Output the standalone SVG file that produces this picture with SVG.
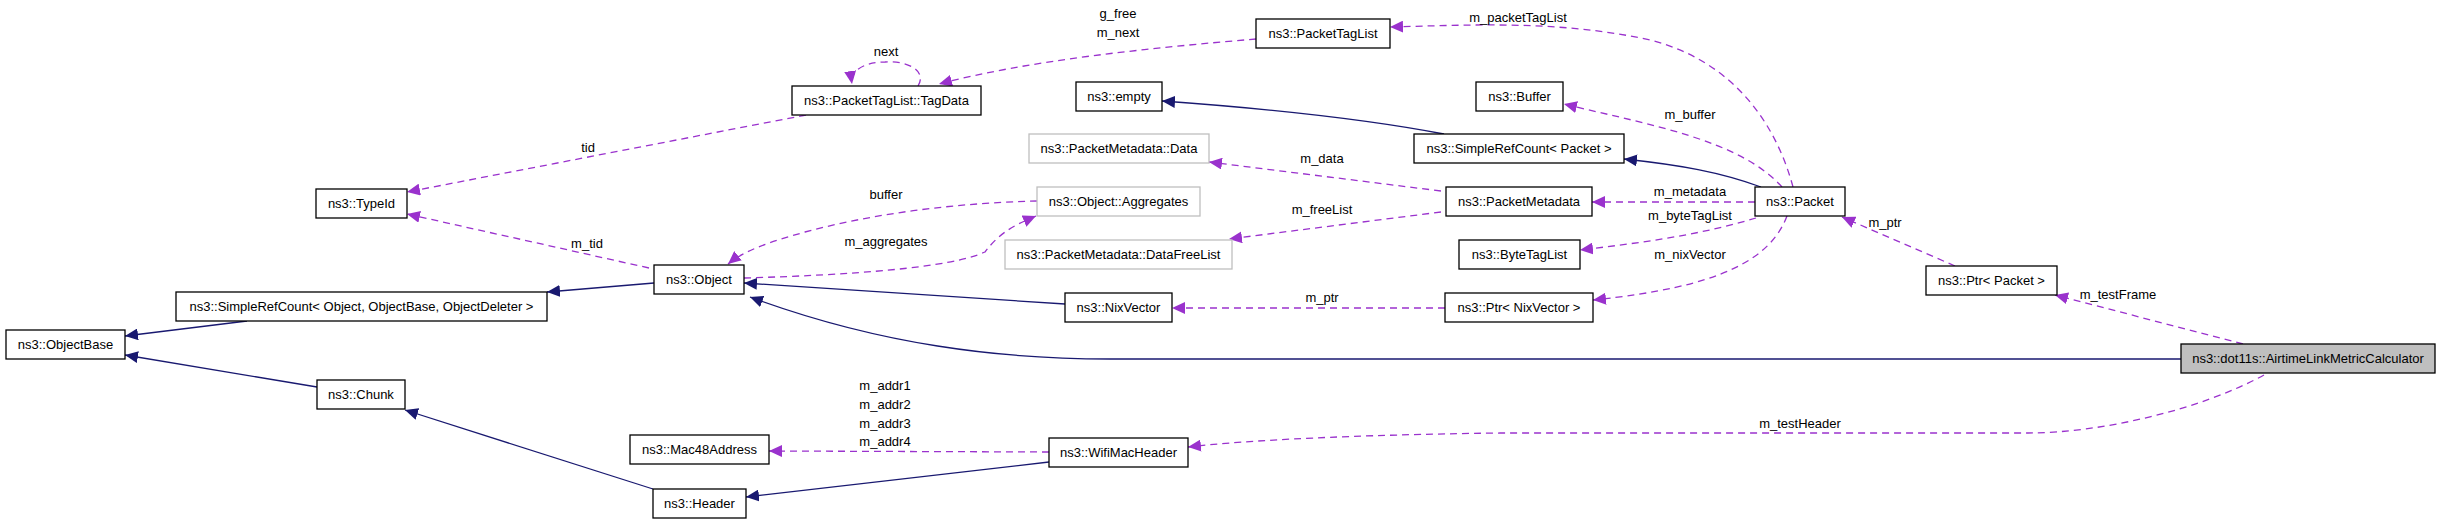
<svg xmlns="http://www.w3.org/2000/svg" width="2453" height="528" viewBox="0 0 2453 528">
<style>
.n rect{fill:#fff;stroke:#000;stroke-width:1.3}
.n.g rect{stroke:#bfbfbf}
.n.c rect{fill:#bfbfbf}
text{font-family:"Liberation Sans",Arial,sans-serif;font-size:13px;text-anchor:middle;fill:#000}
.i{fill:none;stroke:#191970;stroke-width:1.3;marker-end:url(#ai)}
.u{fill:none;stroke:#9a32cd;stroke-width:1.3;stroke-dasharray:7,5;marker-end:url(#au)}
</style>
<defs>
<marker id="ai" markerUnits="userSpaceOnUse" markerWidth="14" markerHeight="12" refX="13" refY="6" orient="auto"><path d="M0,0 L13,6 L0,12 Z" fill="#191970"/></marker>
<marker id="au" markerUnits="userSpaceOnUse" markerWidth="14" markerHeight="12" refX="13" refY="6" orient="auto"><path d="M0,0 L13,6 L0,12 Z" fill="#9a32cd"/></marker>
</defs>
<rect width="2453" height="528" fill="#fff"/>
<g id="edges">
<path class="i" d="M247,321 L125,336"/>
<path class="i" d="M317,387 L125,355"/>
<path class="i" d="M654,283 L547,292"/>
<path class="i" d="M653,489 L405,410"/>
<path class="i" d="M1049,462 L746,497"/>
<path class="i" d="M1065,304 L744,283"/>
<path class="i" d="M2181,359 L1110,359 C1000,359 880,345 750,297"/>
<path class="i" d="M1444,134 C1360,118 1260,108 1162,101"/>
<path class="i" d="M1761,187 C1720,172 1680,165 1624,159"/>
<path class="u" d="M806,115 L407,192"/>
<path class="u" d="M649,268 L407,214"/>
<path class="u" d="M1037,201 C960,203 880,212 805,232 C770,242 745,250 728,264"/>
<path class="u" d="M744,278 C850,275 950,268 985,252 C1000,232 1015,225 1036,216"/>
<text x="886" y="199">buffer</text>
<text x="886" y="246">m_aggregates</text>
<path class="u" d="M1256,39 C1150,48 1030,60 939,84"/>
<text x="1118" y="18">g_free</text>
<text x="1118" y="37">m_next</text>
<path class="u" d="M918,86 C928,70 905,60 885,62 C865,62 850,70 852,84"/>
<text x="886" y="56">next</text>
<text x="588" y="152">tid</text>
<text x="587" y="248">m_tid</text>
<path class="u" d="M1793,187 C1775,120 1730,60 1650,40 C1560,20 1470,25 1390,27"/>
<text x="1518" y="22">m_packetTagList</text>
<path class="u" d="M1782,187 C1740,140 1650,125 1564,104"/>
<text x="1690" y="119">m_buffer</text>
<path class="u" d="M1441,191 L1209,162"/>
<text x="1322" y="163">m_data</text>
<path class="u" d="M1441,212 L1229,239"/>
<text x="1322" y="214">m_freeList</text>
<path class="u" d="M1755,202 L1592,202"/>
<text x="1690" y="196">m_metadata</text>
<path class="u" d="M1756,218 C1700,235 1640,243 1580,250"/>
<text x="1690" y="220">m_byteTagList</text>
<path class="u" d="M1787,216 C1770,260 1720,287 1593,300"/>
<text x="1690" y="259">m_nixVector</text>
<path class="u" d="M1445,308 L1172,308"/>
<text x="1322" y="302">m_ptr</text>
<path class="u" d="M1955,266 L1842,217"/>
<text x="1885" y="227">m_ptr</text>
<path class="u" d="M2243,344 L2055,295"/>
<text x="2118" y="299">m_testFrame</text>
<path class="u" d="M2264,375 C2200,410 2100,433 2028,433 L1500,433 C1350,435 1250,440 1188,447"/>
<text x="1800" y="428">m_testHeader</text>
<path class="u" d="M1049,452 L769,451"/>
<text x="885" y="390">m_addr1</text>
<text x="885" y="409">m_addr2</text>
<text x="885" y="428">m_addr3</text>
<text x="885" y="446">m_addr4</text>
</g>
<g id="n1" class="n"><rect x="316" y="189" width="91" height="29"/><text x="361.5" y="208">ns3::TypeId</text></g>
<g id="n2" class="n"><rect x="654" y="265" width="90" height="29"/><text x="699" y="284">ns3::Object</text></g>
<g id="n3" class="n"><rect x="176" y="292" width="371" height="29"/><text x="361.5" y="311">ns3::SimpleRefCount&lt; Object, ObjectBase, ObjectDeleter &gt;</text></g>
<g id="n4" class="n"><rect x="6" y="330" width="119" height="29"/><text x="65.5" y="349">ns3::ObjectBase</text></g>
<g id="n5" class="n"><rect x="317" y="380" width="88" height="29"/><text x="361" y="399">ns3::Chunk</text></g>
<g id="n6" class="n"><rect x="630" y="435" width="139" height="29"/><text x="699.5" y="454">ns3::Mac48Address</text></g>
<g id="n7" class="n"><rect x="653" y="489" width="93" height="29"/><text x="699.5" y="508">ns3::Header</text></g>
<g id="n8" class="n"><rect x="792" y="86" width="189" height="29"/><text x="886.5" y="105">ns3::PacketTagList::TagData</text></g>
<g id="n9" class="n"><rect x="1256" y="19" width="134" height="29"/><text x="1323" y="38">ns3::PacketTagList</text></g>
<g id="n10" class="n"><rect x="1076" y="82" width="86" height="29"/><text x="1119" y="101">ns3::empty</text></g>
<g id="n11" class="n"><rect x="1476" y="82" width="87" height="29"/><text x="1519.5" y="101">ns3::Buffer</text></g>
<g id="n12" class="n"><rect x="1414" y="134" width="210" height="29"/><text x="1519" y="153">ns3::SimpleRefCount&lt; Packet &gt;</text></g>
<g id="n13" class="n g"><rect x="1029" y="134" width="180" height="29"/><text x="1119" y="153">ns3::PacketMetadata::Data</text></g>
<g id="n14" class="n g"><rect x="1037" y="187" width="163" height="29"/><text x="1118.5" y="206">ns3::Object::Aggregates</text></g>
<g id="n15" class="n"><rect x="1446" y="187" width="146" height="29"/><text x="1519" y="206">ns3::PacketMetadata</text></g>
<g id="n16" class="n g"><rect x="1005" y="240" width="227" height="29"/><text x="1118.5" y="259">ns3::PacketMetadata::DataFreeList</text></g>
<g id="n17" class="n"><rect x="1459" y="240" width="121" height="29"/><text x="1519.5" y="259">ns3::ByteTagList</text></g>
<g id="n18" class="n"><rect x="1065" y="293" width="107" height="29"/><text x="1118.5" y="312">ns3::NixVector</text></g>
<g id="n19" class="n"><rect x="1445" y="293" width="148" height="29"/><text x="1519" y="312">ns3::Ptr&lt; NixVector &gt;</text></g>
<g id="n20" class="n"><rect x="1049" y="438" width="139" height="29"/><text x="1118.5" y="457">ns3::WifiMacHeader</text></g>
<g id="n21" class="n"><rect x="1755" y="187" width="90" height="29"/><text x="1800" y="206">ns3::Packet</text></g>
<g id="n22" class="n"><rect x="1926" y="266" width="131" height="29"/><text x="1991.5" y="285">ns3::Ptr&lt; Packet &gt;</text></g>
<g id="n23" class="n c"><rect x="2181" y="344" width="254" height="29"/><text x="2308" y="363">ns3::dot11s::AirtimeLinkMetricCalculator</text></g>
</svg>
